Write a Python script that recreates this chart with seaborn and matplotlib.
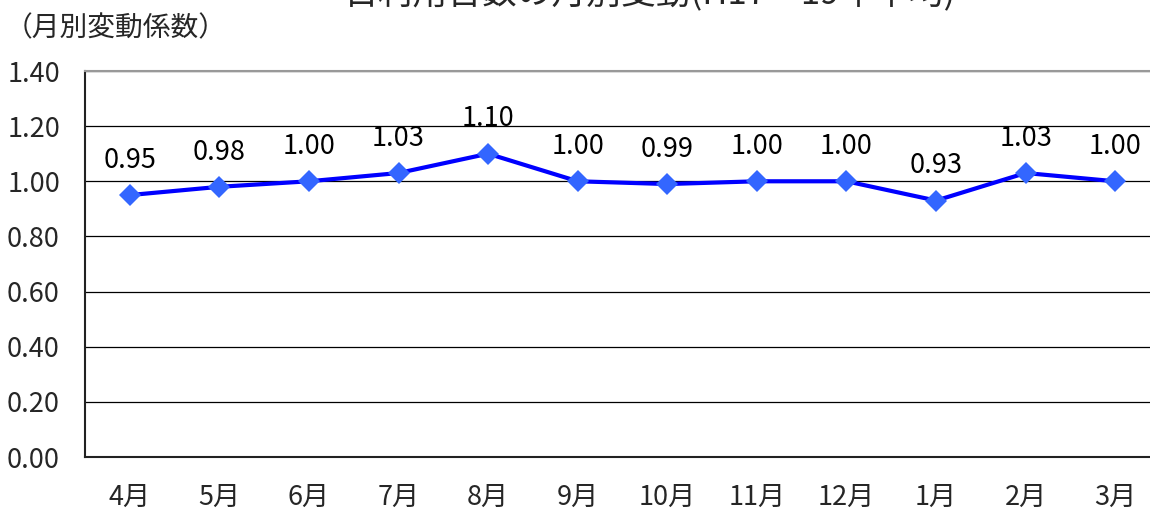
import pandas as pd
import seaborn as sns
import matplotlib.pyplot as plt
from matplotlib.ticker import FixedLocator

### データ（月別変動係数）
months = ["4月", "5月", "6月", "7月", "8月", "9月", "10月", "11月", "12月", "1月", "2月", "3月"]
coef = [0.95, 0.98, 1.00, 1.03, 1.10, 1.00, 0.99, 1.00, 1.00, 0.93, 1.03, 1.00]
labels = ["0.95", "0.98", "1.00", "1.03", "1.10", "1.00", "0.99", "1.00", "1.00", "0.93", "1.03", "1.00"]
yticks = [0.0, 0.2, 0.4, 0.6, 0.8, 1.0, 1.2, 1.4]

sns.set_style("white")
plt.rcParams['font.family'] = ['Noto Sans CJK JP', 'DejaVu Sans']

df = pd.DataFrame({"month": months, "coef": coef})

fig = plt.figure(figsize=(11.5, 5.13), dpi=100)
ax = fig.add_axes([85 / 1150, 56 / 513, 1075 / 1150, 386 / 513])

sns.lineplot(data=df, x="month", y="coef", ax=ax, color="#0000FF", linewidth=3,
             marker="D", markersize=11, markerfacecolor="#3366FF", markeredgecolor="#3366FF",
             markeredgewidth=0, sort=False)

for i, (v, lab) in enumerate(zip(coef, labels)):
    ax.annotate(lab, (i, v), xytext=(0, 25), textcoords="offset points",
                ha="center", va="center", fontsize=19.5, color="black")

ax.set_xlim(-0.5, len(months) - 0.5)
ax.set_ylim(0, 1.4)
ax.set_yticks(yticks)
ax.set_yticklabels([f"{t:.2f}" for t in yticks])
ax.yaxis.grid(True, color="black", linewidth=0.9)
ax.set_axisbelow(True)
ax.set_xlabel("")
ax.set_ylabel("")

ax.tick_params(axis="y", length=0, pad=18, labelsize=19.5)
ax.tick_params(axis="x", which="major", length=0, pad=19, labelsize=19.5)
ax.xaxis.set_minor_locator(FixedLocator([i + 0.5 for i in range(len(months) - 1)]))
ax.tick_params(axis="x", which="minor", direction="in", length=6, width=1.2, color="#444444")

for side in ["left", "bottom"]:
    ax.spines[side].set_color("#222222")
    ax.spines[side].set_linewidth(1.5)
ax.spines["top"].set_color("#999999")
ax.spines["top"].set_linewidth(1.5)
ax.spines["right"].set_visible(False)

fig.text(5 / 1150, 1 - 28 / 513, "（月別変動係数）", fontsize=20, ha="left", va="center")
fig.text(650 / 1150, 1 - 4 / 513, "日利用台数の月別変動(H17～19年平均)", fontsize=25,
         ha="center", va="baseline")

fig.savefig("out.png", dpi=100)
